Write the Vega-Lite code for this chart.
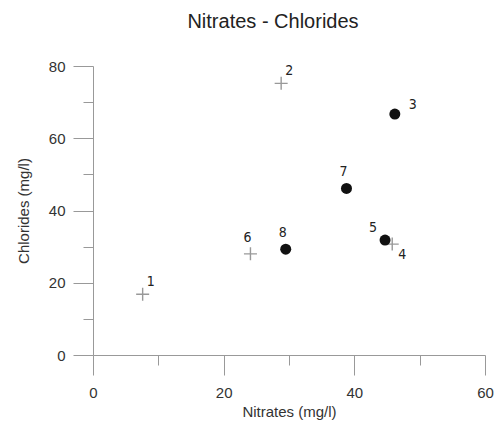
{
  "$schema": "https://vega.github.io/schema/vega-lite/v6.json",
  "width": 392,
  "height": 289,
  "autosize": "none",
  "padding": {"left": 93, "top": 66, "right": 16, "bottom": 66},
  "background": "white",
  "title": {
    "text": "Nitrates - Chlorides",
    "font": "Liberation Sans",
    "fontSize": 20,
    "fontWeight": "normal",
    "color": "#222",
    "anchor": "middle",
    "dx": -16,
    "offset": 27
  },
  "config": {
    "view": {"stroke": null},
    "axis": {
      "grid": false,
      "domainColor": "#999",
      "tickColor": "#999",
      "labelColor": "#333",
      "titleColor": "#333",
      "labelFont": "Liberation Sans",
      "titleFont": "Liberation Sans",
      "labelFontSize": 15,
      "titleFontSize": 15,
      "titleFontWeight": "normal",
      "labelFlush": false
    }
  },
  "data": {
    "values": [
      {"id": "1", "nitrates": 7.6, "chlorides": 16.8, "kind": "cross"},
      {"id": "2", "nitrates": 28.8, "chlorides": 75.2, "kind": "cross"},
      {"id": "3", "nitrates": 46.2, "chlorides": 66.7, "kind": "dot"},
      {"id": "4", "nitrates": 45.8, "chlorides": 30.7, "kind": "cross"},
      {"id": "5", "nitrates": 44.7, "chlorides": 31.8, "kind": "dot"},
      {"id": "6", "nitrates": 24.1, "chlorides": 28.0, "kind": "cross"},
      {"id": "7", "nitrates": 38.8, "chlorides": 46.1, "kind": "dot"},
      {"id": "8", "nitrates": 29.5, "chlorides": 29.3, "kind": "dot"}
    ]
  },
  "encoding": {
    "x": {
      "field": "nitrates",
      "type": "quantitative",
      "scale": {"domain": [0, 60], "nice": false, "zero": false},
      "axis": {
        "title": "Nitrates (mg/l)",
        "values": [0, 10, 20, 30, 40, 50, 60],
        "labelExpr": "datum.value % 20 === 0 ? datum.label : ''",
        "tickSize": {"condition": {"test": "datum.value % 20 === 0", "value": 20}, "value": 10},
        "labelPadding": 10,
        "titlePadding": 4
      }
    },
    "y": {
      "field": "chlorides",
      "type": "quantitative",
      "scale": {"domain": [0, 80], "nice": false, "zero": false},
      "axis": {
        "title": "Chlorides (mg/l)",
        "values": [0, 10, 20, 30, 40, 50, 60, 70, 80],
        "labelExpr": "datum.value % 20 === 0 ? datum.label : ''",
        "tickSize": {"condition": {"test": "datum.value % 20 === 0", "value": 20}, "value": 10},
        "labelPadding": 8,
        "titlePadding": 17
      }
    }
  },
  "layer": [
    {
      "transform": [{"filter": "datum.kind === 'cross'"}],
      "mark": {"type": "point", "shape": "M-1,0L1,0M0,-1L0,1", "filled": false, "stroke": "#999", "strokeWidth": 1.4, "size": 169, "opacity": 1}
    },
    {
      "transform": [{"filter": "datum.kind === 'dot'"}],
      "mark": {"type": "point", "shape": "circle", "filled": true, "fill": "#111", "size": 121, "opacity": 1}
    },
    {
      "transform": [{"filter": "datum.id === '1' || datum.id === '2'"}],
      "mark": {"type": "text", "font": "DejaVu Sans Condensed, Liberation Sans", "fontSize": 14, "fill": "#222", "dx": 8, "dy": -12},
      "encoding": {"text": {"field": "id"}}
    },
    {
      "transform": [{"filter": "datum.id === '3'"}],
      "mark": {"type": "text", "font": "DejaVu Sans Condensed, Liberation Sans", "fontSize": 14, "fill": "#222", "dx": 18, "dy": -9},
      "encoding": {"text": {"field": "id"}}
    },
    {
      "transform": [{"filter": "datum.id === '6' || datum.id === '7' || datum.id === '8'"}],
      "mark": {"type": "text", "font": "DejaVu Sans Condensed, Liberation Sans", "fontSize": 14, "fill": "#222", "dx": -3, "dy": -16},
      "encoding": {"text": {"field": "id"}}
    },
    {
      "transform": [{"filter": "datum.id === '5'"}],
      "mark": {"type": "text", "font": "DejaVu Sans Condensed, Liberation Sans", "fontSize": 14, "fill": "#222", "dx": -12, "dy": -12},
      "encoding": {"text": {"field": "id"}}
    },
    {
      "transform": [{"filter": "datum.id === '4'"}],
      "mark": {"type": "text", "font": "DejaVu Sans Condensed, Liberation Sans", "fontSize": 14, "fill": "#222", "dx": 10, "dy": 11},
      "encoding": {"text": {"field": "id"}}
    }
  ]
}
